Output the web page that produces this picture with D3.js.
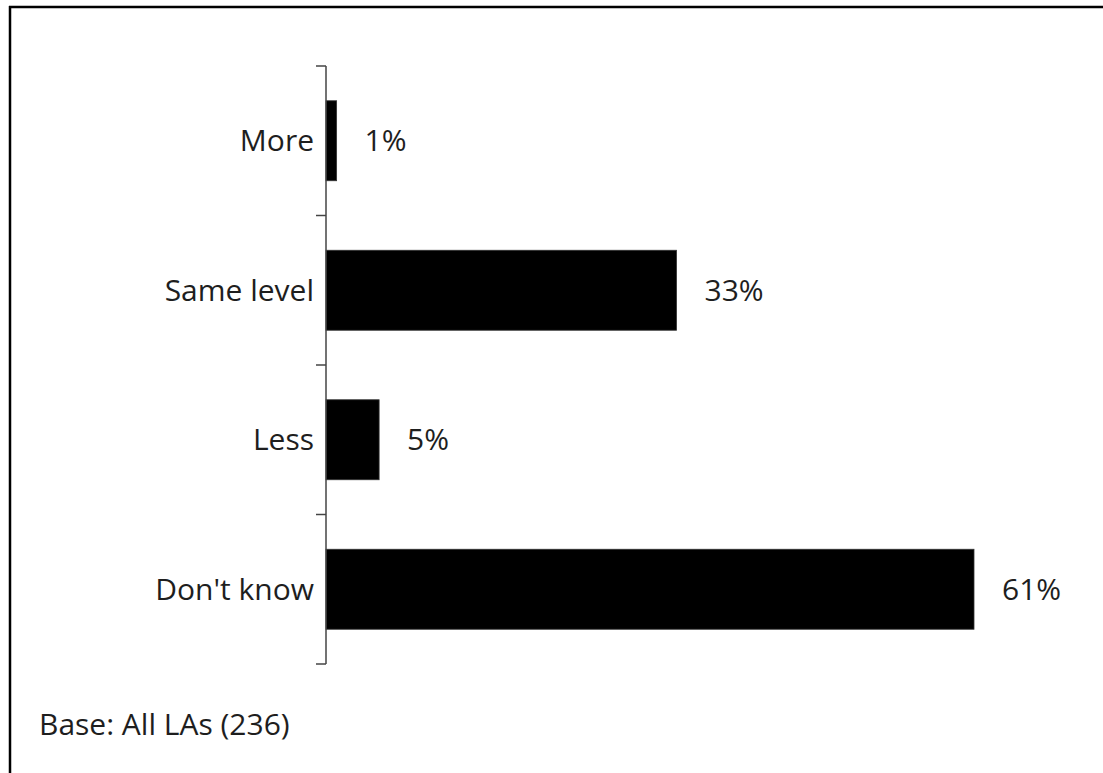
<!DOCTYPE html>
<html>
<head>
<meta charset="utf-8">
<script src="https://cdn.jsdelivr.net/npm/d3@7"></script>
<style>
  html, body { margin: 0; padding: 0; background: #fff; overflow: hidden; }
  svg { display: block; }
  text { font-family: "Open Sans", sans-serif; fill: #1e1e1e; }
</style>
</head>
<body>
<div id="chart"></div>
<script>
const categories = ["More", "Same level", "Less", "Don't know"]
const values = [1, 33, 5, 61]
const baseNote = "Base: All LAs (236)"

const W = 1103, H = 773
const MARGIN = { TOP: 66, LEFT: 326 }
const PLOT_H = 598

const svg = d3.select("#chart").append("svg")
	.attr("width", W)
	.attr("height", H)

// frame: only its top and left edges fall inside the picture
svg.append("line")
	.attr("x1", 9).attr("x2", W)
	.attr("y1", 7).attr("y2", 7)
	.attr("stroke", "#000").attr("stroke-width", 2.5)
svg.append("line")
	.attr("x1", 10).attr("x2", 10)
	.attr("y1", 6).attr("y2", H)
	.attr("stroke", "#000").attr("stroke-width", 2.5)

const g = svg.append("g")
	.attr("transform", `translate(${MARGIN.LEFT}, ${MARGIN.TOP})`)

const x = d3.scaleLinear()
	.domain([0, 61])
	.range([0, 648])

const y = d3.scaleBand()
	.domain(categories)
	.range([0, PLOT_H])
	.paddingInner(0.465)
	.paddingOuter(0.2325)

// bars
g.selectAll("rect.bar")
	.data(categories)
	.enter().append("rect")
		.attr("class", "bar")
		.attr("x", 0)
		.attr("y", d => y(d))
		.attr("width", (d, i) => x(values[i]))
		.attr("height", y.bandwidth())
		.attr("fill", "#000")
		.attr("stroke", "#333")
		.attr("stroke-width", 0.8)

// axis, ticks sit between the categories
const yAxis = g.append("g")
const bounds = d3.range(categories.length + 1).map(i => i * PLOT_H / categories.length)
yAxis.append("line")
	.attr("x1", 0).attr("x2", 0)
	.attr("y1", 0).attr("y2", PLOT_H)
	.attr("stroke", "#444").attr("stroke-width", 1.5)
yAxis.selectAll("line.tick")
	.data(bounds)
	.enter().append("line")
		.attr("class", "tick")
		.attr("x1", -10).attr("x2", 0)
		.attr("y1", d => d).attr("y2", d => d)
		.attr("stroke", "#444").attr("stroke-width", 1.5)

// category labels
g.selectAll("text.cat")
	.data(categories)
	.enter().append("text")
		.attr("class", "cat")
		.attr("x", -12)
		.attr("y", d => y(d) + y.bandwidth() / 2)
		.attr("dy", "0.35em")
		.attr("text-anchor", "end")
		.style("font-size", "30px")
		.text(d => d)

// value labels
g.selectAll("text.val")
	.data(categories)
	.enter().append("text")
		.attr("class", "val")
		.attr("x", (d, i) => x(values[i]) + 28)
		.attr("y", d => y(d) + y.bandwidth() / 2)
		.attr("dy", "0.35em")
		.style("font-size", "30px")
		.text((d, i) => values[i] + "%")

svg.append("text")
	.attr("x", 39)
	.attr("y", 735)
	.style("font-size", "30px")
	.text(baseNote)
</script>
</body>
</html>
